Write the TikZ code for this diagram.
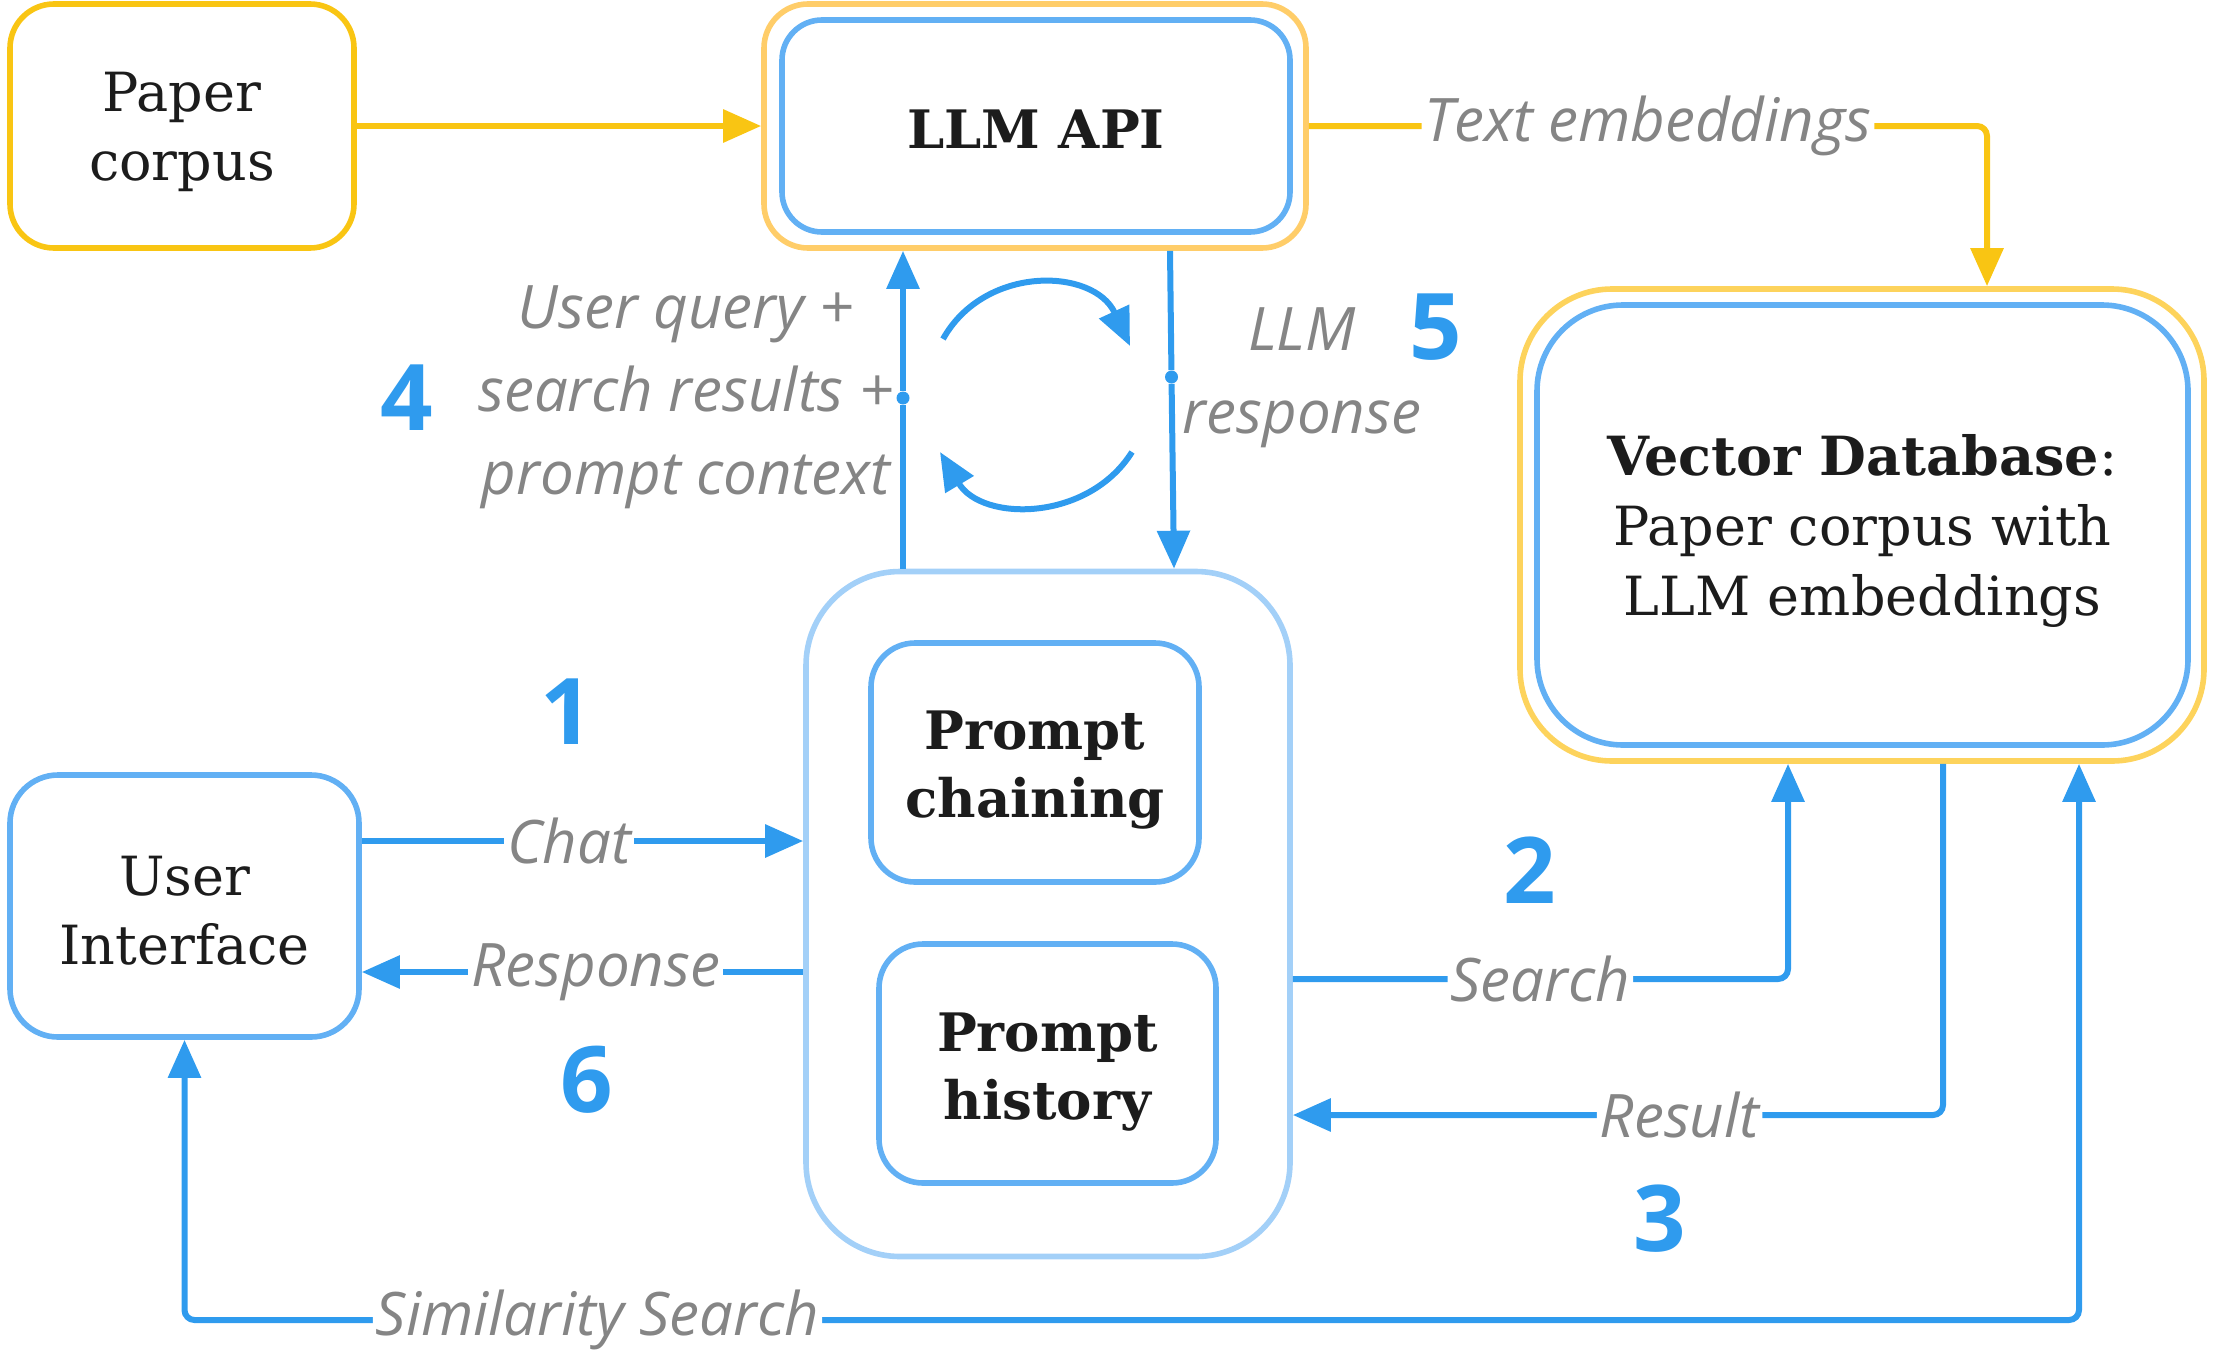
\documentclass[tikz,border=0pt]{standalone}
\usepackage{fontspec}
\setmainfont{DejaVu Serif}
\newfontfamily\lblfont{Open Sans}
\usetikzlibrary{arrows.meta}
\definecolor{yel}{HTML}{F9C513}
\definecolor{yelL}{HTML}{FFCD69}
\definecolor{yelV}{HTML}{FDD35C}
\definecolor{blu}{HTML}{2F9BEE}
\definecolor{bluB}{HTML}{62B0F4}
\definecolor{bluL}{HTML}{A3D0F8}
\definecolor{gry}{HTML}{858585}
\definecolor{txt}{HTML}{1C1C1C}
\begin{document}
\begin{tikzpicture}[x=0.5pt,y=-0.5pt,
  box/.style={draw, line width=2.8pt, rounded corners=22pt, inner sep=0pt},
  boxtxt/.style={align=center, inner sep=0pt, text=txt, font=\fontsize{27}{34.5}\selectfont},
  boldtxt/.style={boxtxt, font=\bfseries\fontsize{26.5}{34}\selectfont},
  lbl/.style={fill=white, inner xsep=1.5pt, inner ysep=0pt, text=gry,
    font=\lblfont\itshape\fontsize{30}{41.5}\selectfont},
  num/.style={text=blu, inner sep=0pt, font=\lblfont\bfseries\fontsize{46}{46}\selectfont},
  dot/.style={circle, fill=blu, inner sep=0pt, minimum size=6.5pt},
  tipb/.tip={Triangle[length=19pt,width=16pt]},
  barrow/.style={draw=blu, line width=3pt, -tipb},
  yarrow/.style={draw=yel, line width=3pt, -tipb},
]
\useasboundingbox (0,0) rectangle (2220,1360);

% boxes
\node[box, draw=yel, minimum width=172pt, minimum height=122pt] (paper) at (182,126) {};
\node[boxtxt] (paperT) at ([yshift=-3pt]paper.center) {Paper\\corpus};
\node[box, draw=yelL, minimum width=271pt, minimum height=122pt] (llmout) at (1035,126) {};
\node[box, draw=bluB, minimum width=254pt, minimum height=106pt, rounded corners=20pt] (llm) at (1036,126) {};
\node[boldtxt] (llmT) at ([yshift=-1.5pt]llm.center) {LLM API};
\node[box, draw=yelV, minimum width=342pt, minimum height=236pt, rounded corners=46pt] (vdbout) at (1862,525) {};
\node[box, draw=bluB, minimum width=325.5pt, minimum height=220pt, rounded corners=43pt] (vdb) at (1862.5,525) {};
\node[boxtxt, font=\fontsize{27}{35}\selectfont] (vdbT) at ([yshift=-3pt]vdb.center)
  {\textbf{Vector Database}:\\Paper corpus with\\LLM embeddings};
\node[box, draw=bluB, minimum width=174.5pt, minimum height=131pt, rounded corners=24pt] (ui) at (184.5,906) {};
\node[boxtxt] (uiT) at ([yshift=-2.5pt]ui.center) {User\\Interface};
\node[box, draw=bluL, minimum width=242pt, minimum height=342.5pt, rounded corners=47pt] (cont) at (1048,914) {};
\node[box, draw=bluB, minimum width=164pt, minimum height=119.5pt] (chain) at (1035,762.5) {};
\node[boldtxt] (chainT) at ([yshift=-4pt]chain.center) {Prompt\\chaining};
\node[box, draw=bluB, minimum width=168.5pt, minimum height=119.5pt] (hist) at (1047.5,1063.5) {};
\node[boldtxt] (histT) at ([yshift=-4.5pt]hist.center) {Prompt\\history};

% helper coordinates
\coordinate (xa) at (903,0);
\coordinate (xb) at (1170,0);
\coordinate (xc) at (1174,0);
\coordinate (te) at (1987,126);
\coordinate (yChat) at (0,841);
\coordinate (yResp) at (0,972);
\coordinate (ySearch) at (0,979);
\coordinate (xS) at (1788,0);
\coordinate (xR) at (1943,0);
\coordinate (yRes) at (0,1115);
\coordinate (xSim) at (2079,0);
\coordinate (ySim) at (0,1320);

% yellow connectors
\draw[yarrow] (paper.east) -- (llmout.west);
\draw[yarrow, rounded corners=5pt] (llmout.east) -- node[lbl]{Text embeddings} (te) -- (te |- vdbout.north);

% LLM loop
\node[dot] (d1) at (903,398) {};
\node[dot] (d2) at (1171.5,377) {};
\draw[barrow] (cont.north -| xa) -- (d1) -- (llmout.south -| xa);
\draw[barrow] (llmout.south -| xb) -- (d2) -- (cont.north -| xc);
\draw[barrow] (943,339) .. controls (985,264) and (1094,268) .. (1130,346);
\draw[barrow] (1132,452) .. controls (1088,522) and (982,522) .. (940,452);

\node[lbl, fill=none, align=center] (qlbl) at (686,397) {User query +\\search results +\\prompt context};
\node[lbl, fill=none, align=center] (rlbl) at (1302,378) {LLM\\response};

% UI connectors
\draw[barrow] (ui.east |- yChat) -- node[lbl, pos=0.47]{Chat} (cont.west |- yChat);
\draw[barrow] (cont.west |- yResp) -- node[lbl, pos=0.47]{Response} (ui.east |- yResp);

% database connectors
\draw[barrow, rounded corners=5pt] (cont.east |- ySearch) -- node[lbl]{Search} (xS |- ySearch) -- (xS |- vdbout.south);
\draw[barrow, rounded corners=5pt] (xR |- vdbout.south) -- (xR |- yRes) -- node[lbl, pos=0.405]{Result} (cont.east |- yRes);
\draw[barrow, tipb-tipb, rounded corners=5pt] (ui.south) -- (ui.south |- ySim) -- node[lbl, pos=0.218]{Similarity Search} (xSim |- ySim) -- (xSim |- vdbout.south);

% step numbers
\node[num] (n1) at (567,712) {1};
\node[num] (n2) at (1530,870) {2};
\node[num] (n3) at (1660,1219) {3};
\node[num] (n4) at (407,398) {4};
\node[num] (n5) at (1436,327) {5};
\node[num] (n6) at (587,1080) {6};
\end{tikzpicture}
\end{document}
